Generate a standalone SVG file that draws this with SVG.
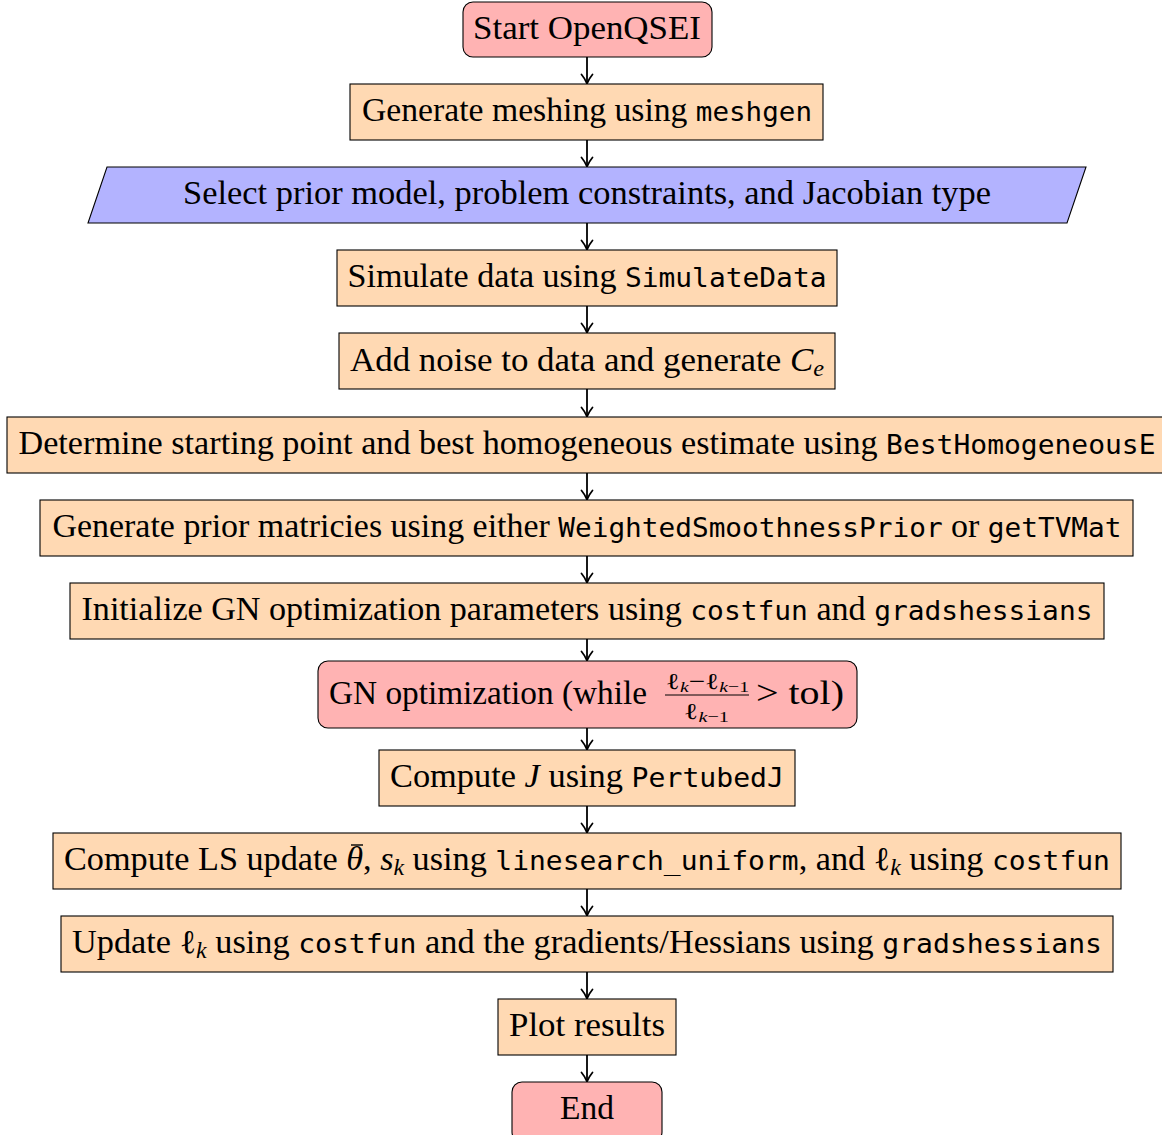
<svg xmlns="http://www.w3.org/2000/svg" width="1162" height="1135" viewBox="0 0 1162 1135">
<defs>
<style>
.n{stroke:#000;stroke-width:1.1}
.r{fill:#ffb3b3}
.o{fill:#ffd9b3}
.b{fill:#b3b3ff}
text{font-family:"Liberation Serif","Times New Roman",serif;font-size:33px;fill:#000}
.t{font-family:"DejaVu Sans Mono","Liberation Mono",monospace;font-size:27px}
.i{font-style:italic}
.s{font-size:23px}
.ss{font-size:15.5px}
.c{stroke:#000;stroke-width:1.8;fill:none;marker-end:url(#ah)}
</style>
<marker id="ah" viewBox="-12 -7 14 14" refX="0" refY="0" markerWidth="14" markerHeight="14" orient="auto" markerUnits="userSpaceOnUse">
<path d="M-9,-5.5 C-5.5,-2.5 -1.5,-0.7 0,0 C-1.5,0.7 -5.5,2.5 -9,5.5" fill="none" stroke="#000" stroke-width="1.8" stroke-linecap="round" stroke-linejoin="round"/>
</marker>
</defs>
<rect width="1162" height="1135" fill="#fff"/>
<g id="connectors">
<line class="c" x1="587" y1="57" x2="587" y2="83.5"/>
<line class="c" x1="587" y1="140" x2="587" y2="166.5"/>
<line class="c" x1="587" y1="223" x2="587" y2="249.5"/>
<line class="c" x1="587" y1="306" x2="587" y2="332.5"/>
<line class="c" x1="587" y1="389" x2="587" y2="416.5"/>
<line class="c" x1="587" y1="473" x2="587" y2="499.5"/>
<line class="c" x1="587" y1="556" x2="587" y2="582.5"/>
<line class="c" x1="587" y1="639" x2="587" y2="660.5"/>
<line class="c" x1="587" y1="728" x2="587" y2="749.5"/>
<line class="c" x1="587" y1="806" x2="587" y2="832.5"/>
<line class="c" x1="587" y1="889" x2="587" y2="915.5"/>
<line class="c" x1="587" y1="972" x2="587" y2="998.5"/>
<line class="c" x1="587" y1="1055" x2="587" y2="1081.5"/>
</g>
<g id="start">
<rect class="n r" x="463" y="2" width="249" height="55" rx="10"/>
<text x="587" y="38.5" text-anchor="middle" textLength="228" lengthAdjust="spacingAndGlyphs">Start OpenQSEI</text>
</g>
<g id="meshgen">
<rect class="n o" x="350" y="84" width="473" height="56"/>
<text x="587" y="121" text-anchor="middle" textLength="450" lengthAdjust="spacingAndGlyphs">Generate meshing using <tspan class="t">meshgen</tspan></text>
</g>
<g id="select">
<polygon class="n b" points="107,167 1086,167 1067,223 88,223"/>
<text x="587" y="204" text-anchor="middle" textLength="808" lengthAdjust="spacingAndGlyphs">Select prior model, problem constraints, and Jacobian type</text>
</g>
<g id="simulate">
<rect class="n o" x="337" y="250" width="500" height="56"/>
<text x="587" y="287" text-anchor="middle" textLength="479" lengthAdjust="spacingAndGlyphs">Simulate data using <tspan class="t">SimulateData</tspan></text>
</g>
<g id="noise">
<rect class="n o" x="339" y="333" width="496" height="56"/>
<text x="587" y="370.5" text-anchor="middle" textLength="474" lengthAdjust="spacingAndGlyphs">Add noise to data and generate <tspan class="i">C</tspan><tspan class="i s" dy="5">e</tspan></text>
</g>
<g id="homogeneous">
<rect class="n o" x="7" y="417" width="1160" height="56"/>
<text x="587" y="454" text-anchor="middle" textLength="1137" lengthAdjust="spacingAndGlyphs">Determine starting point and best homogeneous estimate using <tspan class="t">BestHomogeneousE</tspan></text>
</g>
<g id="prior">
<rect class="n o" x="40" y="500" width="1093" height="56"/>
<text x="587" y="537" text-anchor="middle" textLength="1069" lengthAdjust="spacingAndGlyphs">Generate prior matricies using either <tspan class="t">WeightedSmoothnessPrior</tspan> or <tspan class="t">getTVMat</tspan></text>
</g>
<g id="init">
<rect class="n o" x="70" y="583" width="1034" height="56"/>
<text x="587" y="620" text-anchor="middle" textLength="1011" lengthAdjust="spacingAndGlyphs">Initialize GN optimization parameters using <tspan class="t">costfun</tspan> and <tspan class="t">gradshessians</tspan></text>
</g>
<g id="gn">
<rect class="n r" x="318" y="661" width="539" height="67" rx="10"/>
<line x1="665" y1="695" x2="749" y2="695" stroke="#000" stroke-width="1"/>
<text y="704"><tspan x="329" textLength="318" lengthAdjust="spacingAndGlyphs">GN optimization (while</tspan> <tspan x="666" y="689" textLength="83" lengthAdjust="spacingAndGlyphs"><tspan class="s">ℓ</tspan><tspan class="i ss" dy="3">k</tspan><tspan class="s" dy="-3">−ℓ</tspan><tspan class="i ss" dy="3">k</tspan><tspan class="ss">−1</tspan></tspan> <tspan x="684" y="718.5" textLength="45" lengthAdjust="spacingAndGlyphs"><tspan class="s">ℓ</tspan><tspan class="i ss" dy="3">k</tspan><tspan class="ss">−1</tspan></tspan> <tspan x="756" y="704" textLength="88" lengthAdjust="spacingAndGlyphs">&gt; tol)</tspan></text>
</g>
<g id="jacobian">
<rect class="n o" x="379" y="750" width="416" height="56"/>
<text x="587" y="787" text-anchor="middle" textLength="394" lengthAdjust="spacingAndGlyphs">Compute <tspan class="i">J</tspan> using <tspan class="t">PertubedJ</tspan></text>
</g>
<g id="linesearch">
<rect class="n o" x="53" y="833" width="1068" height="56"/>
<line x1="351" y1="845" x2="363" y2="845" stroke="#000" stroke-width="1.4"/>
<text x="587" y="870" text-anchor="middle" textLength="1046" lengthAdjust="spacingAndGlyphs">Compute LS update <tspan class="i">θ</tspan>, <tspan class="i">s</tspan><tspan class="i s" dy="5">k</tspan><tspan dy="-5"> using </tspan><tspan class="t">linesearch_uniform</tspan>, and ℓ<tspan class="i s" dy="5">k</tspan><tspan dy="-5"> using </tspan><tspan class="t">costfun</tspan></text>
</g>
<g id="update">
<rect class="n o" x="61" y="916" width="1052" height="56"/>
<text x="587" y="953" text-anchor="middle" textLength="1030" lengthAdjust="spacingAndGlyphs">Update ℓ<tspan class="i s" dy="5">k</tspan><tspan dy="-5"> using </tspan><tspan class="t">costfun</tspan> and the gradients/Hessians using <tspan class="t">gradshessians</tspan></text>
</g>
<g id="plot">
<rect class="n o" x="498" y="999" width="178" height="56"/>
<text x="587" y="1036" text-anchor="middle" textLength="156" lengthAdjust="spacingAndGlyphs">Plot results</text>
</g>
<g id="end">
<rect class="n r" x="512" y="1082" width="150" height="60" rx="10"/>
<text x="587" y="1119" text-anchor="middle" textLength="54" lengthAdjust="spacingAndGlyphs">End</text>
</g>
</svg>
